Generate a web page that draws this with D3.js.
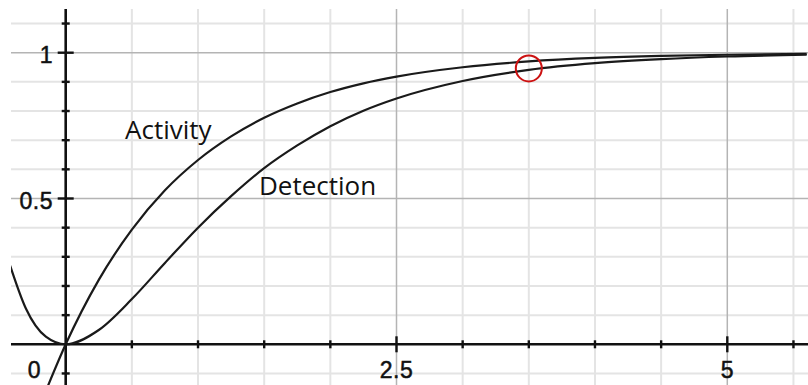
<!DOCTYPE html>
<html lang="en">
<head>
  <meta charset="UTF-8">
  <title>Activity and Detection</title>
  <script src="https://d3js.org/d3.v7.min.js"></script>
  <style>
    body { margin: 0; background: #fff; }
    .grid-minor { stroke: #e4e4e4; stroke-width: 2px; }
    .grid-major { stroke: #b4b4b4; stroke-width: 1.5px; }
    .axis-line { stroke: #111; stroke-width: 2.6px; }
    .tick { stroke: #111; stroke-width: 2.4px; }
    .curve { fill: none; stroke: #1a1a1a; stroke-width: 2.2px; }
    .num { font-family: Arial, "Liberation Sans", sans-serif; font-size: 23px; fill: #111; stroke: #111; stroke-width: 0.5px; letter-spacing: 0.5px; }
    .curve-label { font-family: "Open Sans", sans-serif; font-size: 26px; fill: #111; }
  </style>
</head>
<body>
  <svg width="808" height="385"></svg>
  <script>
    // values
    let activityT = [-0.15, 0, 0.25, 0.5, 0.75, 1, 1.25, 1.5, 1.75, 2, 2.25, 2.5, 3, 3.5, 4, 4.5, 5, 5.6],
        activityY = [-0.16, 0, 0.221, 0.393, 0.528, 0.632, 0.713, 0.777, 0.826, 0.865, 0.895, 0.918, 0.950, 0.970, 0.982, 0.989, 0.993, 0.996];

    let detectionT = [-0.42, -0.3, -0.15, 0, 0.25, 0.5, 0.75, 1, 1.25, 1.5, 1.75, 2, 2.25, 2.5, 3, 3.5, 4, 4.5, 5, 5.6],
        detectionY = [0.27, 0.122, 0.026, 0, 0.049, 0.155, 0.279, 0.400, 0.508, 0.604, 0.682, 0.748, 0.801, 0.843, 0.903, 0.941, 0.964, 0.978, 0.987, 0.993];

    let xTicks = [0.5, 1, 1.5, 2, 2.5, 3, 3.5, 4, 4.5, 5, 5.5],
        xMajor = [2.5, 5],
        yTicks = [-0.1, 0.1, 0.2, 0.3, 0.4, 0.5, 0.6, 0.7, 0.8, 0.9, 1, 1.1],
        yMajor = [0.5, 1],
        xLabels = ["2.5", "5"],
        yLabels = ["0.5", "1"];

    let marker = {t: 3.5, y: 0.946};

    const svg = d3.select("svg");
    const x = d3.scaleLinear().domain([0, 5]).range([65.7, 727.3]);
    const y = d3.scaleLinear().domain([0, 1]).range([344.3, 52.7]);

    svg.append("clipPath").attr("id", "plot")
      .append("rect").attr("x", 11).attr("y", 9).attr("width", 797).attr("height", 376);

    const g = svg.append("g").attr("clip-path", "url(#plot)");

    // grid
    g.selectAll(".vminor")
      .data(xTicks.filter(d => !xMajor.includes(d)))
      .join("line")
        .attr("class", "grid-minor")
        .attr("x1", d => x(d)).attr("x2", d => x(d))
        .attr("y1", 0).attr("y2", 385);

    g.selectAll(".hminor")
      .data(yTicks.filter(d => !yMajor.includes(d)))
      .join("line")
        .attr("class", "grid-minor")
        .attr("x1", 0).attr("x2", 808)
        .attr("y1", d => y(d)).attr("y2", d => y(d));

    g.selectAll(".vmajor")
      .data(xMajor)
      .join("line")
        .attr("class", "grid-major")
        .attr("x1", d => x(d)).attr("x2", d => x(d))
        .attr("y1", 0).attr("y2", 385);

    g.selectAll(".hmajor")
      .data(yMajor)
      .join("line")
        .attr("class", "grid-major")
        .attr("x1", 0).attr("x2", 808)
        .attr("y1", d => y(d)).attr("y2", d => y(d));

    // axes
    g.append("line").attr("class", "axis-line")
      .attr("x1", 0).attr("x2", 808).attr("y1", y(0)).attr("y2", y(0));
    g.append("line").attr("class", "axis-line")
      .attr("x1", x(0)).attr("x2", x(0)).attr("y1", 0).attr("y2", 385);

    g.selectAll(".xtick")
      .data(xTicks)
      .join("line")
        .attr("class", "tick")
        .attr("x1", d => x(d)).attr("x2", d => x(d))
        .attr("y1", d => y(0) - (xMajor.includes(d) ? 8 : 4))
        .attr("y2", d => y(0) + (xMajor.includes(d) ? 8 : 4));

    g.selectAll(".ytick")
      .data(yTicks)
      .join("line")
        .attr("class", "tick")
        .attr("y1", d => y(d)).attr("y2", d => y(d))
        .attr("x1", d => x(0) - (yMajor.includes(d) ? 8 : 4))
        .attr("x2", d => x(0) + (yMajor.includes(d) ? 8 : 4));

    // curves
    const line = d3.line()
      .x(d => x(d[0]))
      .y(d => y(d[1]))
      .curve(d3.curveMonotoneX);

    g.append("path").attr("class", "curve")
      .attr("d", line(activityT.map((t, i) => [t, activityY[i]])));
    g.append("path").attr("class", "curve")
      .attr("d", line(detectionT.map((t, i) => [t, detectionY[i]])));

    g.append("circle")
      .attr("cx", x(marker.t)).attr("cy", y(marker.y)).attr("r", 13)
      .attr("fill", "none").attr("stroke", "#cc1111").attr("stroke-width", 2);

    // labels
    svg.selectAll(".xlab")
      .data(xMajor)
      .join("text")
        .attr("class", "num")
        .attr("x", d => x(d)).attr("y", 378)
        .attr("text-anchor", "middle")
        .text((d, i) => xLabels[i]);

    svg.selectAll(".ylab")
      .data(yMajor)
      .join("text")
        .attr("class", "num")
        .attr("x", 53).attr("y", d => y(d) + 10)
        .attr("text-anchor", "end")
        .text((d, i) => yLabels[i]);

    svg.append("text").attr("class", "num")
      .attr("x", 41).attr("y", 378).attr("text-anchor", "end").text("0");

    svg.append("text").attr("class", "curve-label")
      .attr("x", 125).attr("y", 139).text("Activity");
    svg.append("text").attr("class", "curve-label")
      .attr("x", 259).attr("y", 195).text("Detection");
  </script>
</body>
</html>
